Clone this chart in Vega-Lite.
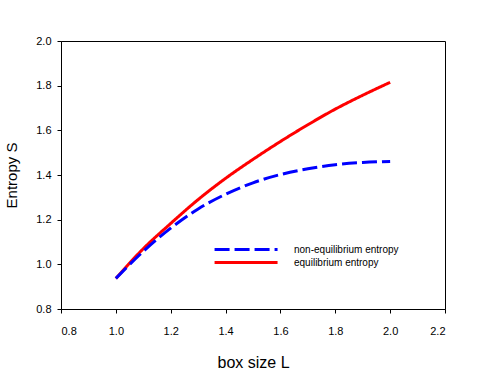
{
  "$schema": "https://vega.github.io/schema/vega-lite/v6.json",
  "width": 384,
  "height": 268,
  "autosize": "none",
  "padding": {"left": 61, "top": 41, "right": 36, "bottom": 60},
  "background": "white",
  "config": {
    "view": {"stroke": "black", "strokeWidth": 1},
    "font": "Liberation Sans",
    "axis": {
      "grid": false,
      "domainColor": "black",
      "tickColor": "black",
      "tickSize": 4,
      "labelColor": "black",
      "labelFontSize": 11,
      "labelFont": "Liberation Sans",
      "titleFont": "Liberation Sans",
      "titleFontWeight": "normal",
      "titleColor": "black",
      "titleFontSize": 15
    }
  },
  "data": {
    "values": [
      {"L": 1.0, "S": 0.937, "series": "equilibrium entropy"},
      {"L": 1.1, "S": 1.07, "series": "equilibrium entropy"},
      {"L": 1.2, "S": 1.183, "series": "equilibrium entropy"},
      {"L": 1.3, "S": 1.29, "series": "equilibrium entropy"},
      {"L": 1.4, "S": 1.385, "series": "equilibrium entropy"},
      {"L": 1.5, "S": 1.47, "series": "equilibrium entropy"},
      {"L": 1.6, "S": 1.55, "series": "equilibrium entropy"},
      {"L": 1.7, "S": 1.625, "series": "equilibrium entropy"},
      {"L": 1.8, "S": 1.695, "series": "equilibrium entropy"},
      {"L": 1.9, "S": 1.757, "series": "equilibrium entropy"},
      {"L": 2.0, "S": 1.815, "series": "equilibrium entropy"},
      {"L": 1.0, "S": 0.937, "series": "non-equilibrium entropy"},
      {"L": 1.1, "S": 1.058, "series": "non-equilibrium entropy"},
      {"L": 1.2, "S": 1.162, "series": "non-equilibrium entropy"},
      {"L": 1.3, "S": 1.248, "series": "non-equilibrium entropy"},
      {"L": 1.4, "S": 1.314, "series": "non-equilibrium entropy"},
      {"L": 1.5, "S": 1.365, "series": "non-equilibrium entropy"},
      {"L": 1.6, "S": 1.402, "series": "non-equilibrium entropy"},
      {"L": 1.7, "S": 1.428, "series": "non-equilibrium entropy"},
      {"L": 1.8, "S": 1.446, "series": "non-equilibrium entropy"},
      {"L": 1.9, "S": 1.456, "series": "non-equilibrium entropy"},
      {"L": 2.0, "S": 1.461, "series": "non-equilibrium entropy"}
    ]
  },
  "mark": {"type": "line", "strokeWidth": 3, "interpolate": "monotone"},
  "encoding": {
    "x": {
      "field": "L", "type": "quantitative", "title": "box size L",
      "scale": {"domain": [0.8, 2.2], "nice": false, "zero": false},
      "axis": {"values": [0.8, 1.0, 1.2, 1.4, 1.6, 1.8, 2.0, 2.2], "format": ".1f", "labelPadding": 12, "titlePadding": 18, "titleFontSize": 16}
    },
    "y": {
      "field": "S", "type": "quantitative", "title": "Entropy S",
      "scale": {"domain": [0.8, 2.0], "nice": false, "zero": false},
      "axis": {"values": [0.8, 1.0, 1.2, 1.4, 1.6, 1.8, 2.0], "format": ".1f", "labelPadding": 6, "titlePadding": 16}
    },
    "color": {
      "field": "series", "type": "nominal",
      "scale": {"domain": ["non-equilibrium entropy", "equilibrium entropy"], "range": ["#0000FF", "#FF0000"]},
      "legend": {
        "title": null, "orient": "none", "legendX": 152, "legendY": 203,
        "symbolType": "M -1 0 L 15 0", "symbolSize": 62, "symbolStrokeWidth": 3,
        "symbolFillColor": "transparent",
        "labelFontSize": 10, "labelOffset": 70, "rowPadding": 0, "labelColor": "black"
      }
    },
    "strokeDash": {
      "field": "series", "type": "nominal",
      "scale": {"domain": ["non-equilibrium entropy", "equilibrium entropy"], "range": [[15, 5], [1, 0]]},
      "legend": {
        "title": null, "orient": "none", "legendX": 152, "legendY": 203,
        "symbolType": "M -1 0 L 15 0", "symbolSize": 62, "symbolStrokeWidth": 3,
        "symbolFillColor": "transparent",
        "labelFontSize": 10, "labelOffset": 70, "rowPadding": 0, "labelColor": "black"
      }
    }
  }
}
